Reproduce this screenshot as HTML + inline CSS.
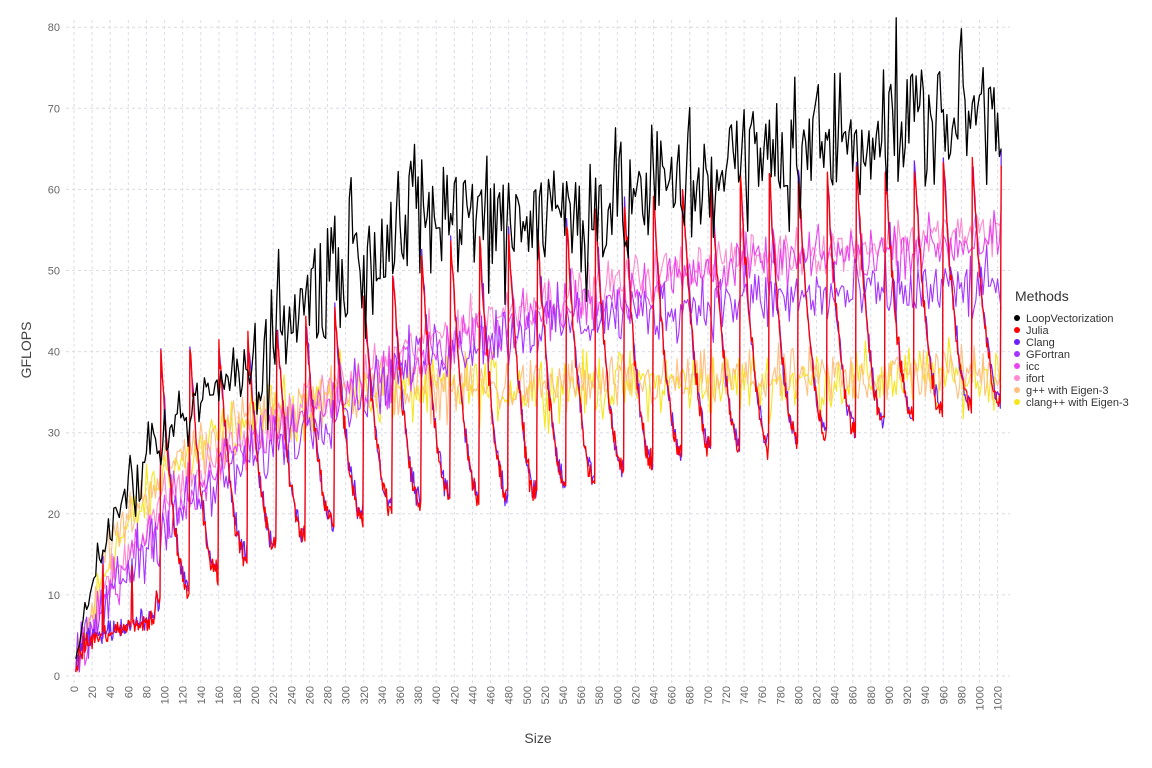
<!DOCTYPE html>
<html><head><meta charset="utf-8"><style>
body{margin:0;background:#fff;font-family:"Liberation Sans","DejaVu Sans",sans-serif}
svg{display:block}
</style></head><body>
<svg id="s" width="1152" height="768" xmlns="http://www.w3.org/2000/svg">
<g id="grid"></g><g id="lines" fill="none" stroke-linejoin="round"></g><g id="labels" font-size="11" fill="#666"></g>
<text x="538" y="743" font-size="14" fill="#444" text-anchor="middle">Size</text>
<text transform="translate(31,350) rotate(-90)" font-size="14" fill="#444" text-anchor="middle">GFLOPS</text>
<g font-size="11" fill="#333">
<text x="1015" y="301" font-size="14">Methods</text>
<circle cx="1017" cy="318" r="3" fill="#000"/><text x="1026" y="322">LoopVectorization</text>
<circle cx="1017" cy="330" r="3" fill="#ff0000"/><text x="1026" y="334">Julia</text>
<circle cx="1017" cy="342" r="3" fill="#6a1fff"/><text x="1026" y="346">Clang</text>
<circle cx="1017" cy="354" r="3" fill="#a733ff"/><text x="1026" y="358">GFortran</text>
<circle cx="1017" cy="366" r="3" fill="#e845f0"/><text x="1026" y="370">icc</text>
<circle cx="1017" cy="378" r="3" fill="#ff8ad0"/><text x="1026" y="382">ifort</text>
<circle cx="1017" cy="390" r="3" fill="#ffbf80"/><text x="1026" y="394">g++ with Eigen-3</text>
<circle cx="1017" cy="402" r="3" fill="#f5e61f"/><text x="1026" y="406">clang++ with Eigen-3</text>
</g>
</svg>
<script>
var NS="http://www.w3.org/2000/svg";
function X(v){return 74+v*0.9055}
function Y(v){return 676-v*8.11}
function el(t,a,p){var e=document.createElementNS(NS,t);for(var k in a)e.setAttribute(k,a[k]);document.getElementById(p).appendChild(e);return e}
for(var y=0;y<=80;y+=10){el("line",{x1:66,x2:1010,y1:Y(y),y2:Y(y),stroke:"#dcdce6","stroke-dasharray":"3,3"},"grid");
 var t=el("text",{x:60,y:Y(y)+4,"text-anchor":"end"},"labels");t.textContent=y;}
for(var x=0;x<=1020;x+=20){el("line",{x1:X(x),x2:X(x),y1:20,y2:684,stroke:"#dcdce6","stroke-dasharray":"3,3"},"grid");
 var t=el("text",{transform:"translate("+(X(x)+4)+",686) rotate(-90)","text-anchor":"end"},"labels");t.textContent=x;}
var seed=12345;function r(){seed=(seed*1103515245+12345)%2147483648;return seed/2147483648}
function nz(){return (r()+r()+r()-1.5)}
function lerp(pts,x){for(var i=1;i<pts.length;i++){if(x<=pts[i][0]){var a=pts[i-1],b=pts[i];return a[1]+(b[1]-a[1])*(x-a[0])/(b[0]-a[0])}}return pts[pts.length-1][1]}
function line(f,col,w,st){var d=[];for(var x=2;x<=1024;x+=(st||2)){var v=f(x);d.push(X(x).toFixed(1)+","+Y(Math.max(0.5,v)).toFixed(1))}
 el("polyline",{points:d.join(" "),stroke:col,"stroke-width":w||1.2},"lines")}
var black=[[2,1],[20,12],[50,21],[100,29],[150,35],[200,39],[250,46],[300,52],[400,57],[500,57],[600,58],[700,62],[800,65],[900,68],[1024,70]];
var peak=[[96,40],[200,42],[300,46],[400,53],[500,55],[600,58],[700,61],[800,62],[1024,64]];
var trough=[[96,9],[150,12],[200,15],[300,19],[400,22],[500,22],[600,25],[700,28],[800,29],[900,31],[1024,34]];
function saw(x,off){if(x<90){return lerp([[2,1],[12,4],[30,5],[90,7]],x)+nz()*1.2+((x%32)==0?8:0)}
 var p=(x+off)%32;var pk=lerp(peak,x),tr=lerp(trough,x);return tr+(pk-tr)*Math.pow(1-p/32,2)+nz()*1.5}
line(function(x){return lerp([[2,1],[40,15],[100,25],[200,32],[300,35],[1024,37]],x)+nz()*4},"#f5e61f",1.1);
line(function(x){return lerp([[2,1],[40,16],[100,26],[200,32],[300,35],[1024,37.5]],x)+nz()*3.5},"#ffbf80",1.1);
line(function(x){return lerp([[2,1],[40,12],[100,22],[200,30],[300,36],[400,42],[500,46],[700,51],[1024,55]],x)+nz()*3},"#ff8ad0",1.1);
line(function(x){return lerp([[2,1],[40,11],[100,20],[200,29],[300,35],[400,40],[500,44],[700,50],[1024,54]],x)+nz()*3.5},"#e845f0",1.1);
line(function(x){return lerp([[2,1],[40,10],[100,19],[200,27],[300,34],[400,40],[500,43],[700,46],[1024,48]],x)+nz()*4},"#a733ff",1.1);
line(function(x){return saw(x,0)+0.3},"#6a1fff",1.2,1);
line(function(x){return saw(x,0)},"#ff0000",1.3,1);
line(function(x){var v=lerp(black,x);var n=nz();return v+n*(x<60?2:x<200?4:9)},"#000",1.3,2);
</script>
</body></html>
